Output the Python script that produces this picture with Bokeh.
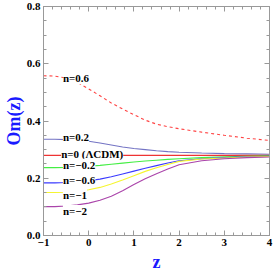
from bokeh.plotting import figure
from bokeh.models import Range1d, LinearAxis, FixedTicker, PrintfTickFormatter, Label, CustomJSTickFormatter
from bokeh.embed import file_html
from bokeh.resources import INLINE

# ---- data ----
z = [-1, -0.75, -0.5, -0.25, 0, 0.25, 0.5, 0.75, 1, 1.25, 1.5, 1.75, 2, 2.5, 3, 3.5, 4]
om_n06 = [0.558, 0.557, 0.550, 0.535, 0.512, 0.488, 0.463, 0.442, 0.422, 0.403, 0.389, 0.380, 0.373, 0.361, 0.350, 0.340, 0.332]
om_n02 = [0.336, 0.336, 0.335, 0.333, 0.329, 0.323, 0.316, 0.309, 0.304, 0.300, 0.296, 0.293, 0.291, 0.288, 0.286, 0.285, 0.284]
om_n0 = [0.280] * len(z)
om_nm02 = [0.237, 0.237, 0.238, 0.240, 0.242, 0.245, 0.249, 0.253, 0.257, 0.260, 0.263, 0.266, 0.268, 0.272, 0.275, 0.277, 0.278]
om_nm06 = [0.184, 0.184, 0.185, 0.187, 0.191, 0.197, 0.205, 0.215, 0.225, 0.235, 0.244, 0.253, 0.261, 0.268, 0.272, 0.275, 0.277]
om_nm1 = [0.150, 0.150, 0.151, 0.154, 0.160, 0.168, 0.180, 0.194, 0.209, 0.224, 0.237, 0.248, 0.259, 0.267, 0.271, 0.274, 0.276]
om_nm2 = [0.101, 0.101, 0.103, 0.107, 0.113, 0.123, 0.137, 0.156, 0.178, 0.198, 0.216, 0.232, 0.247, 0.261, 0.268, 0.272, 0.274]

series = [om_n06, om_n02, om_n0, om_nm02, om_nm06, om_nm1, om_nm2]
colors = ["#ff4444", "#7474c4", "#ee3333", "#44ee44", "#3a3aff", "#f5f530", "#aa44aa"]
dashes = ["3 3", "solid", "solid", "solid", "solid", "solid", "solid"]

label_text = ["n=0.6", "n=0.2", "n=0 (\u039bCDM)", "n=\u22120.2", "n=\u22120.6", "n=\u22121", "n=\u22122"]
label_z = [-0.57, -0.57, -0.61, -0.57, -0.57, -0.57, -0.57]
label_om = [0.549, 0.345, 0.283, 0.247, 0.194, 0.142, 0.086]

x_ticks = [-1, 0, 1, 2, 3, 4]
y_ticks = [0.0, 0.2, 0.4, 0.6, 0.8]

FONT = "Liberation Serif"
AXC = "#999999"
LABC = "#1a1aff"

p = figure(width=273, height=275, output_backend="svg", toolbar_location=None,
           x_range=Range1d(-1, 4), y_range=Range1d(0, 0.8),
           min_border_left=40, min_border_right=4, min_border_top=6, min_border_bottom=40,
           x_axis_type=None, y_axis_type=None)
p.background_fill_color = "white"
p.border_fill_color = "white"
p.outline_line_color = None
p.grid.visible = False

def make_axis(ticks, minor, labels):
    ax = LinearAxis(ticker=FixedTicker(ticks=ticks, minor_ticks=minor))
    ax.axis_line_color = AXC
    ax.major_tick_line_color = AXC
    ax.minor_tick_line_color = AXC
    ax.major_tick_in = 5
    ax.major_tick_out = 0
    ax.minor_tick_in = 3
    ax.minor_tick_out = 0
    if labels:
        ax.major_label_text_font = FONT
        ax.major_label_text_font_style = "bold"
        ax.major_label_text_font_size = "11px"
        ax.major_label_text_color = "black"
        ax.major_label_standoff = 3
        ax.axis_label_text_font = FONT
        ax.axis_label_text_font_style = "bold"
        ax.axis_label_text_font_size = "18px"
        ax.axis_label_text_color = LABC
    else:
        ax.formatter = CustomJSTickFormatter(code="return ''")
        ax.major_label_standoff = 0
    return ax

x_minor = [x_ticks[0] + 0.2 * i for i in range(int(round((x_ticks[-1] - x_ticks[0]) / 0.2)) + 1)]
y_minor = [0.05 * i for i in range(17)]

bx = make_axis(x_ticks, x_minor, True)
bx.major_label_overrides = {-1: "\u22121"}
bx.axis_label = "z"
bx.axis_label_standoff = 3
ly = make_axis(y_ticks, y_minor, True)
ly.formatter = PrintfTickFormatter(format="%.1f")
ly.axis_label = "Om(z)"
ly.axis_label_standoff = 0
tx = make_axis(x_ticks, x_minor, False)
ry = make_axis(y_ticks, y_minor, False)
p.add_layout(bx, "below")
p.add_layout(ly, "left")
p.add_layout(tx, "above")
p.add_layout(ry, "right")

for ys, c, d in zip(series, colors, dashes):
    p.line(z, ys, line_color=c, line_width=1.1, line_dash=d)

for t, lx, lyv in zip(label_text, label_z, label_om):
    p.add_layout(Label(x=lx, y=lyv, text=t, text_font=FONT, text_font_style="bold",
                       text_font_size="11px", text_color="black",
                       text_align="left", text_baseline="middle",
                       background_fill_color="white", padding=0))

open("out.html", "w").write(file_html(p, INLINE))
